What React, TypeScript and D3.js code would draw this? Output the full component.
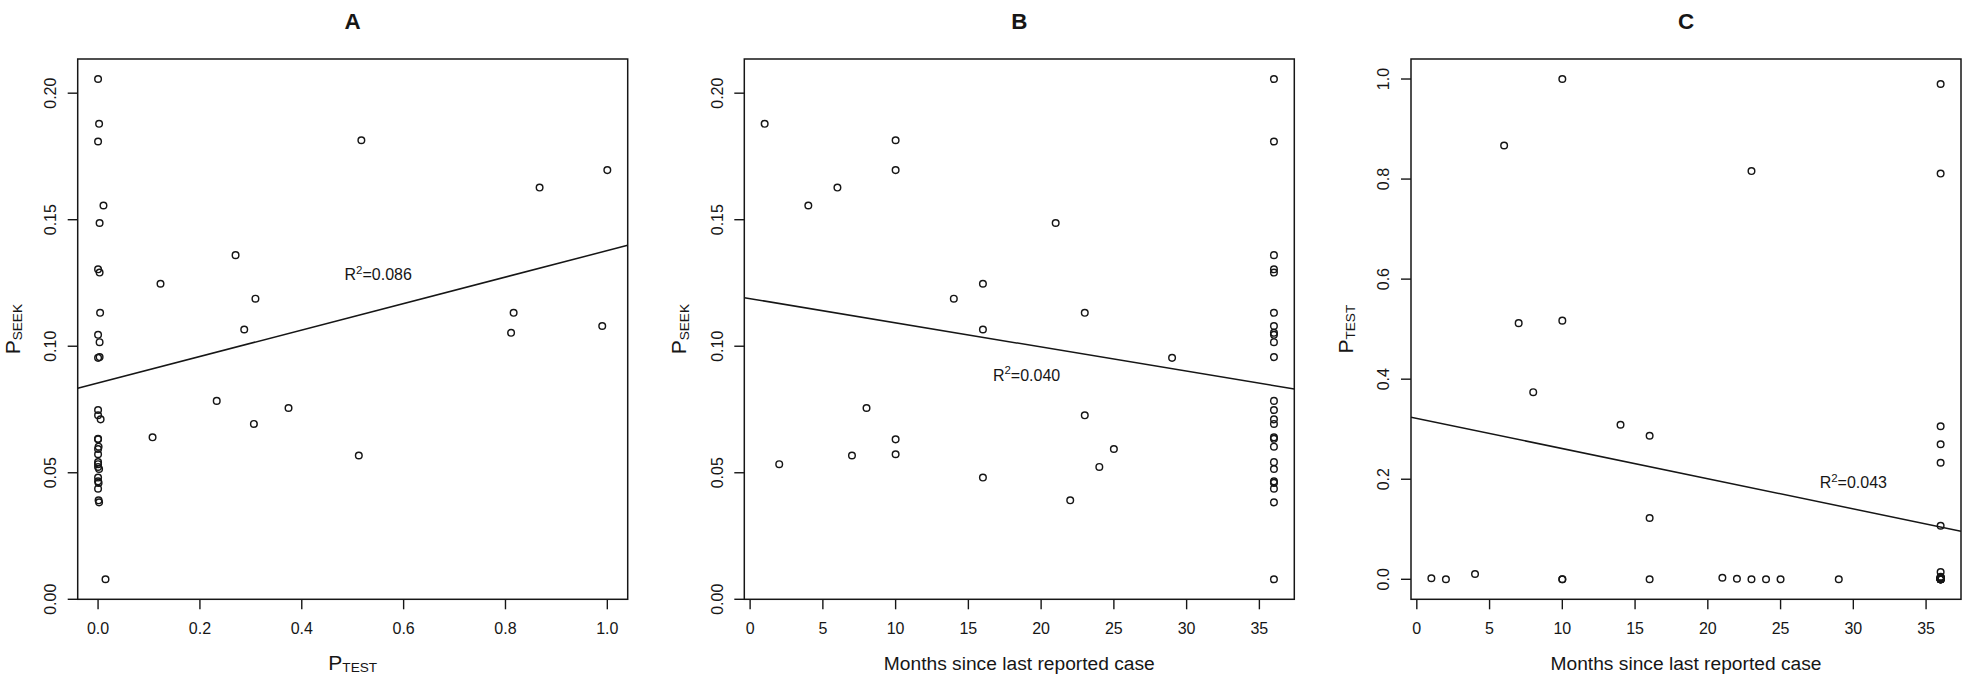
import React, { useEffect } from 'react';
import * as d3 from 'd3';

// ---- data (one entry per site) ----
const months = [
  1, 2, 4, 6, 7, 8, 10, 10, 10, 10, 14, 16, 16, 16, 21, 22, 23, 23, 24, 25, 29,
  36, 36, 36, 36, 36, 36, 36, 36, 36, 36, 36, 36, 36, 36, 36, 36, 36, 36, 36, 36, 36, 36, 36, 36, 36,
];
const pTest = [
  0.002, 0.0, 0.0106, 0.867, 0.512, 0.374, 1.0, 0.517, 0.0, 0.0, 0.309, 0.1226, 0.287, 0.0, 0.003, 0.001, 0.816, 0.0, 0.0, 0.0, 0.0,
  0.0, 0.0, 0.27, 0.0, 0.003, 0.004, 0.99, 0.811, 0.0, 0.003, 0.003, 0.233, 0.0, 0.005, 0.306, 0.107, 0.0, 0.001, 0.0, 0.002, 0.0, 0.001, 0.0, 0.002, 0.0146,
];
const pSeek = [
  0.1879, 0.0534, 0.1556, 0.1627, 0.0568, 0.0756, 0.1696, 0.1814, 0.0632, 0.0573, 0.1188, 0.1247, 0.1066, 0.0481, 0.1487, 0.0391, 0.1132, 0.0727, 0.0523, 0.0594, 0.0954,
  0.2056, 0.1809, 0.136, 0.1304, 0.1291, 0.1132, 0.108, 0.1053, 0.1045, 0.1016, 0.0957, 0.0784, 0.0748, 0.0711, 0.0693, 0.064, 0.0634, 0.0603, 0.0542, 0.0515, 0.0466, 0.046, 0.0437, 0.0383, 0.0079,
];

const ticksPTest = [0, 0.2, 0.4, 0.6, 0.8, 1.0];
const ticksPSeek = [0, 0.05, 0.1, 0.15, 0.2];
const ticksMonths = [0, 5, 10, 15, 20, 25, 30, 35];

const panelTitles = ['A', 'B', 'C'];
const fitA = { intercept: 0.0855, slope: 0.0523, r2: '0.086', lx: 0.55, ly: 0.126 };
const fitB = { intercept: 0.1188, slope: -0.000955, r2: '0.040', lx: 19, ly: 0.0863 };
const fitC = { intercept: 0.3216, slope: -0.00603, r2: '0.043', lx: 30, ly: 0.182 };

const FONT = "'Liberation Sans', Arial, Helvetica, sans-serif";
const INK = '#161616';

const W = 1967;
const H = 676;
const BOX_TOP = 59;
const BOX_BOTTOM = 599.3;
const BOX_W = 550;
const LEFTS = [77.7, 744.3, 1411];

// R-style axis limits: data range extended by 4% on each side
const rlim = (vals: number[]): [number, number] => {
  const [a, b] = d3.extent(vals) as [number, number];
  const r = b - a;
  return [a - 0.04 * r, b + 0.04 * r];
};

type Fit = { intercept: number; slope: number; r2: string; lx: number; ly: number };

function SubLabel({ main, sub }: { main: string; sub: string }) {
  return (
    <>
      <tspan fontSize={21}>{main}</tspan>
      <tspan fontSize={13.6} dy={2.2}>{sub}</tspan>
    </>
  );
}

function Panel(props: {
  left: number;
  xs: number[];
  ys: number[];
  xticks: number[];
  yticks: number[];
  xfmt: (v: number) => string;
  yfmt: (v: number) => string;
  title: string;
  xlab: React.ReactNode;
  ylab: React.ReactNode;
  fit: Fit;
  id: string;
}) {
  const { left, xs, ys, xticks, yticks, xfmt, yfmt, title, xlab, ylab, fit, id } = props;
  const right = left + BOX_W;
  const x = d3.scaleLinear().domain(rlim(xs)).range([left, right]);
  const y = d3.scaleLinear().domain(rlim(ys)).range([BOX_BOTTOM, BOX_TOP]);
  const [dx0, dx1] = x.domain();
  const line = d3
    .line<number>()
    .x((d) => x(d))
    .y((d) => y(fit.intercept + fit.slope * d));
  const cx = (left + right) / 2;
  const cy = (BOX_TOP + BOX_BOTTOM) / 2;
  return (
    <g>
      <defs>
        <clipPath id={id}>
          <rect x={left} y={BOX_TOP} width={BOX_W} height={BOX_BOTTOM - BOX_TOP} />
        </clipPath>
      </defs>
      <text x={cx} y={29.3} textAnchor="middle" fontWeight="bold" fontSize={22.4} fill={INK}>
        {title}
      </text>
      {xs.map((d, i) => (
        <circle key={i} cx={x(d)} cy={y(ys[i])} r={3.3} fill="none" stroke={INK} strokeWidth={1.45} />
      ))}
      <path d={line([dx0, dx1]) || ''} fill="none" stroke={INK} strokeWidth={1.5} clipPath={`url(#${id})`} />
      <text x={x(fit.lx)} y={y(fit.ly)} textAnchor="middle" fontSize={16} fill={INK}>
        <tspan>R</tspan>
        <tspan fontSize={11.5} dy={-6.5}>2</tspan>
        <tspan dy={6.5}>{'=' + fit.r2}</tspan>
      </text>
      <rect x={left} y={BOX_TOP} width={BOX_W} height={BOX_BOTTOM - BOX_TOP} fill="none" stroke={INK} strokeWidth={1.5} />
      {xticks.map((t) => (
        <g key={'x' + t}>
          <line x1={x(t)} x2={x(t)} y1={BOX_BOTTOM} y2={BOX_BOTTOM + 10} stroke={INK} strokeWidth={1.4} />
          <text x={x(t)} y={634} textAnchor="middle" fontSize={16} fill={INK}>
            {xfmt(t)}
          </text>
        </g>
      ))}
      {yticks.map((t) => (
        <g key={'y' + t}>
          <line x1={left - 10} x2={left} y1={y(t)} y2={y(t)} stroke={INK} strokeWidth={1.4} />
          <text transform={`translate(${left - 21.7},${y(t)}) rotate(-90)`} textAnchor="middle" fontSize={16} fill={INK}>
            {yfmt(t)}
          </text>
        </g>
      ))}
      <text x={cx} y={670} textAnchor="middle" fontSize={19.2} fill={INK}>
        {xlab}
      </text>
      <text transform={`translate(${left - 58},${cy}) rotate(-90)`} textAnchor="middle" fontSize={19.2} fill={INK}>
        {ylab}
      </text>
    </g>
  );
}

export default function App() {
  useEffect(() => {
    document.body.style.margin = '0';
  }, []);
  const f1 = d3.format('.1f');
  const f2 = d3.format('.2f');
  const fi = d3.format('d');
  return (
    <svg
      width={W}
      height={H}
      viewBox={`0 0 ${W} ${H}`}
      style={{ position: 'absolute', left: 0, top: 0, background: '#fff' }}
      fontFamily={FONT}
    >
      <rect width={W} height={H} fill="#fff" />
      <Panel
        id="clipA"
        left={LEFTS[0]}
        xs={pTest}
        ys={pSeek}
        xticks={ticksPTest}
        yticks={ticksPSeek}
        xfmt={f1}
        yfmt={f2}
        title={panelTitles[0]}
        xlab={<SubLabel main="P" sub="TEST" />}
        ylab={<SubLabel main="P" sub="SEEK" />}
        fit={fitA}
      />
      <Panel
        id="clipB"
        left={LEFTS[1]}
        xs={months}
        ys={pSeek}
        xticks={ticksMonths}
        yticks={ticksPSeek}
        xfmt={fi}
        yfmt={f2}
        title={panelTitles[1]}
        xlab={'Months since last reported case'}
        ylab={<SubLabel main="P" sub="SEEK" />}
        fit={fitB}
      />
      <Panel
        id="clipC"
        left={LEFTS[2]}
        xs={months}
        ys={pTest}
        xticks={ticksMonths}
        yticks={ticksPTest}
        xfmt={fi}
        yfmt={f1}
        title={panelTitles[2]}
        xlab={'Months since last reported case'}
        ylab={<SubLabel main="P" sub="TEST" />}
        fit={fitC}
      />
    </svg>
  );
}
